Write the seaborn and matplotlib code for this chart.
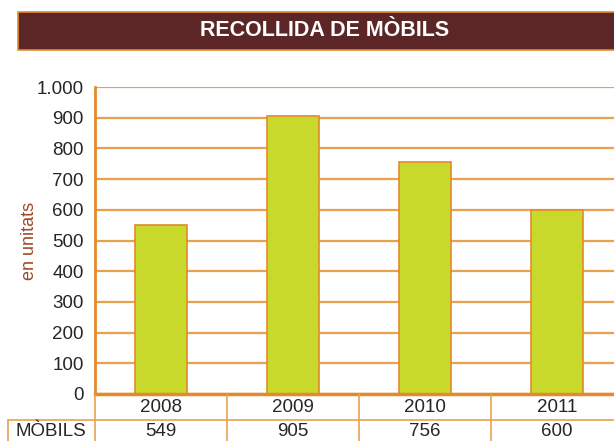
import numpy as np
import pandas as pd
import matplotlib
matplotlib.use("Agg")
import matplotlib.pyplot as plt
from matplotlib.ticker import FuncFormatter
from matplotlib.patches import Rectangle
from matplotlib.lines import Line2D
import seaborn as sns

### Data
years = ["2008", "2009", "2010", "2011"]
mobils = [549, 905, 756, 600]
row_label = "MÒBILS"
title = "RECOLLIDA DE MÒBILS"

df = pd.DataFrame({"year": years, "mobils": mobils})

### Style
sns.set_style("white")
plt.rcParams['font.family'] = ['Liberation Sans', 'DejaVu Sans']
orange = "#E38A2E"
grid_orange = "#E9A150"
green = "#C8D92B"
brown = "#5C2626"
fs = 13.5

W, H = 614, 441
fig = plt.figure(figsize=(6.14, 4.41), dpi=100)
fig.patch.set_facecolor("white")

# axes placed in pixel coordinates (right edge runs past the picture)
x0, x1 = 95, 623
y_bot, y_top = 394, 87
ax = fig.add_axes([x0 / W, 1 - y_bot / H, (x1 - x0) / W, (y_bot - y_top) / H])

sns.barplot(data=df, x="year", y="mobils", color=green, width=0.4,
            edgecolor=orange, linewidth=1.2, saturation=1, ax=ax, zorder=3)

ax.set_ylim(0, 1000)
ax.set_xlim(-0.5, 3.5)
ax.set_yticks(np.arange(0, 1001, 100))
ax.yaxis.set_major_formatter(FuncFormatter(lambda v, p: f"{int(v):,}".replace(",", ".")))
ax.grid(axis="y", color=grid_orange, linewidth=1.6, zorder=0)
ax.set_axisbelow(True)
ax.tick_params(axis="y", length=6, width=1.5, color=orange, labelsize=fs, pad=2)
ax.tick_params(axis="x", length=0, labelbottom=False)
ax.set_xlabel("")
ax.set_ylabel("")
for s in ["top", "right"]:
    ax.spines[s].set_visible(False)
ax.spines["left"].set_color(orange)
ax.spines["left"].set_linewidth(2)
ax.spines["bottom"].set_color(orange)
ax.spines["bottom"].set_linewidth(2.5)
ax.spines["bottom"].set_zorder(5)

fig.text(21 / W, 1 - 241 / H, "en unitats", rotation=90, color="#9C4A24",
         fontsize=13, ha="left", va="center")

### Title banner
fig.add_artist(Rectangle((18 / W, 1 - 50 / H), (W - 18) / W + 0.01, 38 / H,
                         facecolor=brown, edgecolor=orange, linewidth=1.2,
                         transform=fig.transFigure))
fig.text(325 / W, 1 - 31 / H, title, color="white", fontsize=15.5,
         fontweight="bold", ha="center", va="center")

### Data table below the axis
def hline(y, xa, xb):
    fig.add_artist(Line2D([xa / W, xb / W], [1 - y / H, 1 - y / H],
                          color=grid_orange, linewidth=1.2))

def vline(x, ya, yb):
    fig.add_artist(Line2D([x / W, x / W], [1 - ya / H, 1 - yb / H],
                          color=grid_orange, linewidth=1.2))

col_w = (x1 - x0) / len(years)
hline(420, 8, W)
vline(8, 420, H)
vline(x0, y_bot, H)
for i in range(1, len(years)):
    vline(x0 + i * col_w, y_bot, H)

for i, (yr, v) in enumerate(zip(years, mobils)):
    xc = (x0 + (i + 0.5) * col_w) / W
    fig.text(xc, 1 - 408 / H, yr, ha="center", va="center", fontsize=fs)
    fig.text(xc, 1 - 432 / H, str(v), ha="center", va="center", fontsize=fs)
fig.text(51 / W, 1 - 432 / H, row_label, ha="center", va="center", fontsize=fs)

fig.savefig("out.png", dpi=100)
